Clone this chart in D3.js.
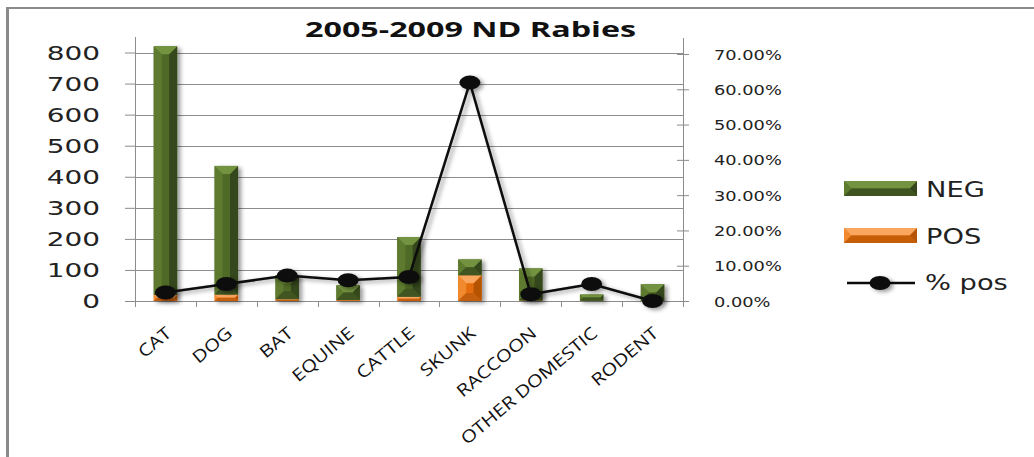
<!DOCTYPE html>
<html>
<head>
<meta charset="utf-8">
<script src="https://cdn.jsdelivr.net/npm/d3@7"></script>
<style>
  html, body { margin: 0; padding: 0; background: #fff; }
  svg { display: block; }
</style>
</head>
<body>
<svg id="chart" width="1034" height="457"></svg>
<script>
// Rabies test results by species, North Dakota 2005-2009
const categories = ["CAT", "DOG", "BAT", "EQUINE", "CATTLE", "SKUNK", "RACCOON", "OTHER DOMESTIC", "RODENT"];
const posCounts = [20, 21, 6, 3, 14, 83, 2, 1, 0];
const negCounts = [800, 414, 77, 48, 192, 51, 103, 20, 54];
const pctPos = [0.024, 0.048, 0.072, 0.059, 0.068, 0.619, 0.019, 0.048, 0.0];
const leftTicks = [0, 100, 200, 300, 400, 500, 600, 700, 800];
const rightTicks = [0, 0.1, 0.2, 0.3, 0.4, 0.5, 0.6, 0.7];
const seriesNames = ["NEG", "POS", "% pos"];

const svg = d3.select("#chart");
const plot = { left: 135, right: 683, bottom: 301, top: 52.5, topR: 54, axisTop: 37 };

const x = d3.scaleBand().domain(categories).range([plot.left, plot.right]).padding(0);
const yL = d3.scaleLinear().domain([0, 800]).range([plot.bottom, plot.top]);
const yR = d3.scaleLinear().domain([0, 0.7]).range([plot.bottom, plot.topR]);
const barW = x.bandwidth() * 0.385;

// stretch text horizontally by a factor
function stretch(sel, k) {
  sel.each(function () {
    const w = this.getComputedTextLength();
    d3.select(this).attr("textLength", w * k).attr("lengthAdjust", "spacingAndGlyphs");
  });
}

const defs = svg.append("defs");
const shadow = defs.append("filter").attr("id", "shadow")
  .attr("x", "-30%").attr("y", "-30%").attr("width", "180%").attr("height", "180%");
shadow.append("feDropShadow").attr("dx", 3).attr("dy", 2).attr("stdDeviation", 2)
  .attr("flood-color", "#000").attr("flood-opacity", 0.4);

// frame
svg.append("line").attr("x1", 8).attr("x2", 1034).attr("y1", 8).attr("y2", 8)
  .attr("stroke", "#8a8a8a").attr("stroke-width", 2);
svg.append("line").attr("x1", 7.5).attr("x2", 7.5).attr("y1", 7).attr("y2", 457)
  .attr("stroke", "#8a8a8a").attr("stroke-width", 3);

// gridlines
svg.append("g").selectAll("line").data(leftTicks.filter(d => d > 0)).join("line")
  .attr("x1", plot.left).attr("x2", plot.right)
  .attr("y1", d => Math.round(yL(d)) + 0.5).attr("y2", d => Math.round(yL(d)) + 0.5)
  .attr("stroke", "#8c8c8c").attr("stroke-width", 1);

// left axis
const gL = svg.append("g").attr("transform", `translate(${plot.left},0)`)
  .call(d3.axisLeft(yL).tickValues(leftTicks).tickSize(10).tickPadding(25).tickFormat(d3.format("d")));
gL.select(".domain").remove();
gL.selectAll(".tick line").attr("stroke", "#8c8c8c");
gL.selectAll(".tick text").attr("font-family", "DejaVu Sans").attr("font-size", 19)
  .attr("fill", "#222").attr("dy", "0.36em").call(stretch, 1.47);
svg.append("line").attr("x1", plot.left + 0.5).attr("x2", plot.left + 0.5)
  .attr("y1", plot.axisTop).attr("y2", plot.bottom).attr("stroke", "#8c8c8c");

// right axis
const gR = svg.append("g").attr("transform", `translate(${plot.right},0)`)
  .call(d3.axisRight(yR).tickValues(rightTicks).tickSize(6).tickPadding(25).tickFormat(d3.format(".2%")));
gR.select(".domain").remove();
gR.selectAll(".tick line").attr("x1", -6).attr("x2", 6).attr("stroke", "#8c8c8c");
gR.selectAll(".tick text").attr("font-family", "DejaVu Sans").attr("font-size", 14)
  .attr("fill", "#222").attr("x", 31).attr("dy", "0.36em").call(stretch, 1.27);
svg.append("line").attr("x1", plot.right + 0.5).attr("x2", plot.right + 0.5)
  .attr("y1", plot.axisTop + 1).attr("y2", plot.bottom).attr("stroke", "#8c8c8c");

// bottom axis
svg.append("line").attr("x1", plot.left).attr("x2", plot.right + 6)
  .attr("y1", plot.bottom + 0.5).attr("y2", plot.bottom + 0.5).attr("stroke", "#8c8c8c");
const bounds = categories.map(c => x(c)).concat([plot.right]);
svg.append("g").selectAll("line").data(bounds).join("line")
  .attr("x1", d => Math.round(d) + 0.5).attr("x2", d => Math.round(d) + 0.5)
  .attr("y1", plot.bottom).attr("y2", plot.bottom + 6).attr("stroke", "#8c8c8c");
const gX = svg.append("g").attr("transform", `translate(0,${plot.bottom})`)
  .call(d3.axisBottom(x).tickSize(0));
gX.select(".domain").remove();
const xLabels = gX.selectAll(".tick text")
  .attr("font-family", "Open Sans").attr("font-size", 17).attr("fill", "#111")
  .attr("text-anchor", "end").attr("x", 0).attr("y", 0).attr("dy", 0)
  .attr("transform", "translate(7,34) rotate(-40)");
// widen category labels so the longest one runs 172px along its baseline
const longest = d3.max(xLabels.nodes(), n => n.getComputedTextLength());
xLabels.call(stretch, 172 / longest);

// beveled bar segment
const palettes = {
  NEG: { body: "#506a25", top: "#739341", left: "#5d7a2e", right: "#34461a", bottom: "#3f5420" },
  POS: { body: "#e46c0a", top: "#faa65e", left: "#f18a2e", right: "#b55306", bottom: "#c65e08" }
};
function bevelBar(g, x0, y0, w, h, p) {
  if (h <= 0) return;
  const b = Math.min(8, h / 2, w / 2);
  const seg = g.append("g");
  seg.append("rect").attr("x", x0).attr("y", y0).attr("width", w).attr("height", h).attr("fill", p.body);
  const poly = (pts, fill) => seg.append("polygon").attr("points", pts.map(q => q.join(",")).join(" ")).attr("fill", fill);
  poly([[x0, y0], [x0 + b, y0 + b], [x0 + b, y0 + h - b], [x0, y0 + h]], p.left);
  poly([[x0 + w, y0], [x0 + w - b, y0 + b], [x0 + w - b, y0 + h - b], [x0 + w, y0 + h]], p.right);
  poly([[x0, y0], [x0 + w, y0], [x0 + w - b, y0 + b], [x0 + b, y0 + b]], p.top);
  poly([[x0, y0 + h], [x0 + w, y0 + h], [x0 + w - b, y0 + h - b], [x0 + b, y0 + h - b]], p.bottom);
}

const bars = svg.append("g").attr("filter", "url(#shadow)");
categories.forEach((c, i) => {
  const cx = x(c) + x.bandwidth() / 2;
  const x0 = cx - barW / 2;
  const posTop = yL(posCounts[i]);
  const negTop = yL(posCounts[i] + negCounts[i]);
  bevelBar(bars, x0, posTop, barW, plot.bottom - posTop, palettes.POS);
  bevelBar(bars, x0, negTop, barW, posTop - negTop, palettes.NEG);
});

// % positive line
const pts = categories.map((c, i) => [x(c) + x.bandwidth() / 2, yR(pctPos[i])]);
const lineG = svg.append("g").attr("filter", "url(#shadow)");
lineG.append("path").attr("d", d3.line()(pts)).attr("fill", "none")
  .attr("stroke", "#0a0a0a").attr("stroke-width", 2.5);
lineG.selectAll("ellipse").data(pts).join("ellipse")
  .attr("cx", d => d[0]).attr("cy", d => d[1]).attr("rx", 10.5).attr("ry", 7)
  .attr("fill", "#0d0d0d");

// title
svg.append("text").attr("x", 305).attr("y", 37).attr("font-family", "Open Sans")
  .attr("font-weight", 700).attr("font-size", 21).attr("fill", "#111")
  .attr("textLength", 331).attr("lengthAdjust", "spacingAndGlyphs")
  .text("2005-2009 ND Rabies");

// legend
const legend = svg.append("g");
const swX = 844, swW = 73, swH = 15;
[["NEG", 181], ["POS", 228]].forEach(([name, yy]) => {
  bevelBar(legend, swX, yy, swW, swH, palettes[name]);
  legend.append("text").attr("x", 926).attr("y", yy + 15.5)
    .attr("font-family", "DejaVu Sans").attr("font-size", 22).attr("fill", "#222")
    .text(name).call(stretch, 1.24);
});
legend.append("line").attr("x1", 847).attr("x2", 915).attr("y1", 283).attr("y2", 283)
  .attr("stroke", "#0a0a0a").attr("stroke-width", 2.5);
legend.append("ellipse").attr("cx", 880).attr("cy", 283).attr("rx", 10.5).attr("ry", 7)
  .attr("fill", "#0d0d0d").attr("filter", "url(#shadow)");
legend.append("text").attr("x", 925).attr("y", 290)
  .attr("font-family", "DejaVu Sans").attr("font-size", 22).attr("fill", "#222")
  .text(seriesNames[2]).call(stretch, 1.24);
</script>
</body>
</html>
